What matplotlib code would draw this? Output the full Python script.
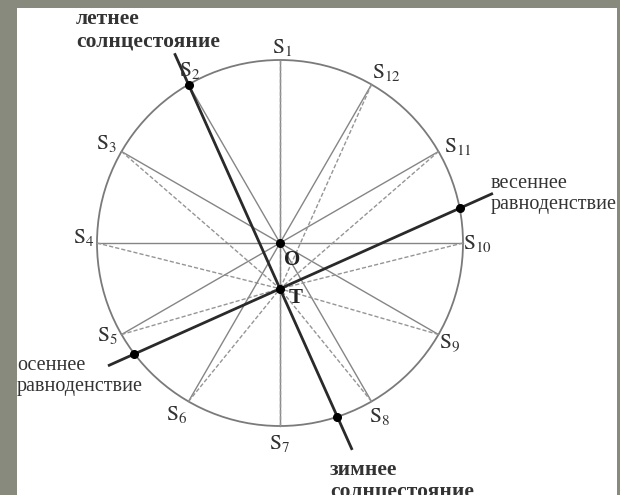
import numpy as np
import matplotlib
matplotlib.use("Agg")
import matplotlib.pyplot as plt
from matplotlib.patches import Rectangle, Circle

plt.rcParams['mathtext.fontset'] = 'stix'

# ---- data ----
labels = [f"S{i}" for i in range(1, 13)]
angles_deg = [90 + 30 * i for i in range(12)]          # S1 at top, counter-clockwise
t_offset = -0.25                                        # T below O (radius units)
solstice_through = 1                                    # index of S2: solstice line passes through S2 and T
solstice_extent = (-0.965, 1.41)                        # distance along line from T
equinox_extent = (-1.03, 1.275)
label_offsets = [(2, 12), (1, 14), (-15, 8), (-13, 5), (-14, -1), (-12, -13),
                 (0, -17), (8, -15), (11, -9), (14, 0), (19, 5), (15, 12)]
summer_text = "летнее\nсолнцестояние"
winter_text = "зимнее\nсолнцестояние"
spring_text = "весеннее\nравноденствие"
autumn_text = "осеннее\nравноденствие"

# ---- layout ----
W, H = 620, 495
CX, CY, R = 280, 243, 183

def px(x, y):
    return ((x - CX) / R, (CY - y) / R)

fig = plt.figure(figsize=(W / 100, H / 100), dpi=100)
fig.patch.set_facecolor('#878a7c')
ax = fig.add_axes([0, 0, 1, 1])
ax.set_xlim(px(0, 0)[0], px(W, 0)[0])
ax.set_ylim(px(0, H)[1], px(0, 0)[1])
ax.axis('off')

# white panel
x0, y0 = px(17, 495)
x1, y1 = px(617, 8)
ax.add_patch(Rectangle((x0, y0), x1 - x0, y1 - y0, facecolor='white', edgecolor='none', zorder=0))

O = np.array([0.0, 0.0])
T = np.array([0.0, t_offset])
ang = np.radians(angles_deg)
S = np.column_stack([np.cos(ang), np.sin(ang)])

# circle
ax.add_patch(Circle((0, 0), 1, facecolor='none', edgecolor='#7a7a7a', lw=1.3, zorder=1))

# lines S_i -> O (solid) and S_i -> T (dashed)
for p in S:
    ax.plot([p[0], O[0]], [p[1], O[1]], color='#858585', lw=1.0, zorder=2)
    ax.plot([p[0], T[0]], [p[1], T[1]], color='#959595', lw=1.0, ls=(0, (3, 1.5)), zorder=2)

# solstice line
d = S[solstice_through] - T
d = d / np.linalg.norm(d)
a, b = solstice_extent
ax.plot([T[0] + a * d[0], T[0] + b * d[0]], [T[1] + a * d[1], T[1] + b * d[1]],
        color='#2a2a2a', lw=2.0, zorder=4, solid_capstyle='butt')
# equinox line (perpendicular)
e = np.array([d[1], -d[0]])
a, b = equinox_extent
ax.plot([T[0] + a * e[0], T[0] + b * e[0]], [T[1] + a * e[1], T[1] + b * e[1]],
        color='#2a2a2a', lw=2.0, zorder=4, solid_capstyle='butt')

def circle_hits(P, v):
    pb = P @ v
    c = P @ P - 1
    disc = np.sqrt(pb * pb - c)
    return [P + (-pb + disc) * v, P + (-pb - disc) * v]

dots = [O, T] + circle_hits(T, d) + circle_hits(T, e)
for q in dots:
    ax.plot(q[0], q[1], 'o', color='black', ms=5.5, zorder=5)

# S labels
for lab, p, off in zip(labels, S, label_offsets):
    txt = r'$\mathrm{S}_{%s}$' % lab[1:]
    ax.annotate(txt, xy=(p[0], p[1]), xytext=(off[0] * 0.72, off[1] * 0.72),
                textcoords='offset points', ha='center', va='center',
                fontsize=15.5, color='#333333', zorder=6)

# O and T labels
ax.text(*px(292, 260), 'O', fontsize=15, fontweight='bold', family='Liberation Serif',
        ha='center', va='center', color='#222222', zorder=6)
ax.text(*px(296, 298), 'T', fontsize=15, fontweight='bold', family='Liberation Serif',
        ha='center', va='center', color='#222222', zorder=6)

# descriptive texts
tkw = dict(family='Liberation Serif', color='#333333', linespacing=1.12, zorder=6)
ax.text(*px(76, 46), summer_text, ha='left', va='baseline', fontweight='bold', fontsize=15.5, **tkw)
ax.text(*px(330, 497), winter_text, ha='left', va='baseline', fontweight='bold', fontsize=15.5, **tkw)
ax.text(*px(491, 209), spring_text, ha='left', va='baseline', fontsize=14.5, **tkw)
ax.text(*px(17, 391), autumn_text, ha='left', va='baseline', fontsize=14.5, **tkw)

# gray border on top (cuts text)
bk = dict(facecolor='#878a7c', edgecolor='none', zorder=10, clip_on=False)
xa, ya = px(0, 8)
xb, yb = px(W, 0)
ax.add_patch(Rectangle((xa, ya), xb - xa, yb - ya, **bk))
xa, ya = px(0, H)
xb, yb = px(17, 0)
ax.add_patch(Rectangle((xa, ya), xb - xa, yb - ya, **bk))
xa, ya = px(617, H)
xb, yb = px(W, 0)
ax.add_patch(Rectangle((xa, ya), xb - xa, yb - ya, **bk))

fig.savefig('out.png', dpi=100)
